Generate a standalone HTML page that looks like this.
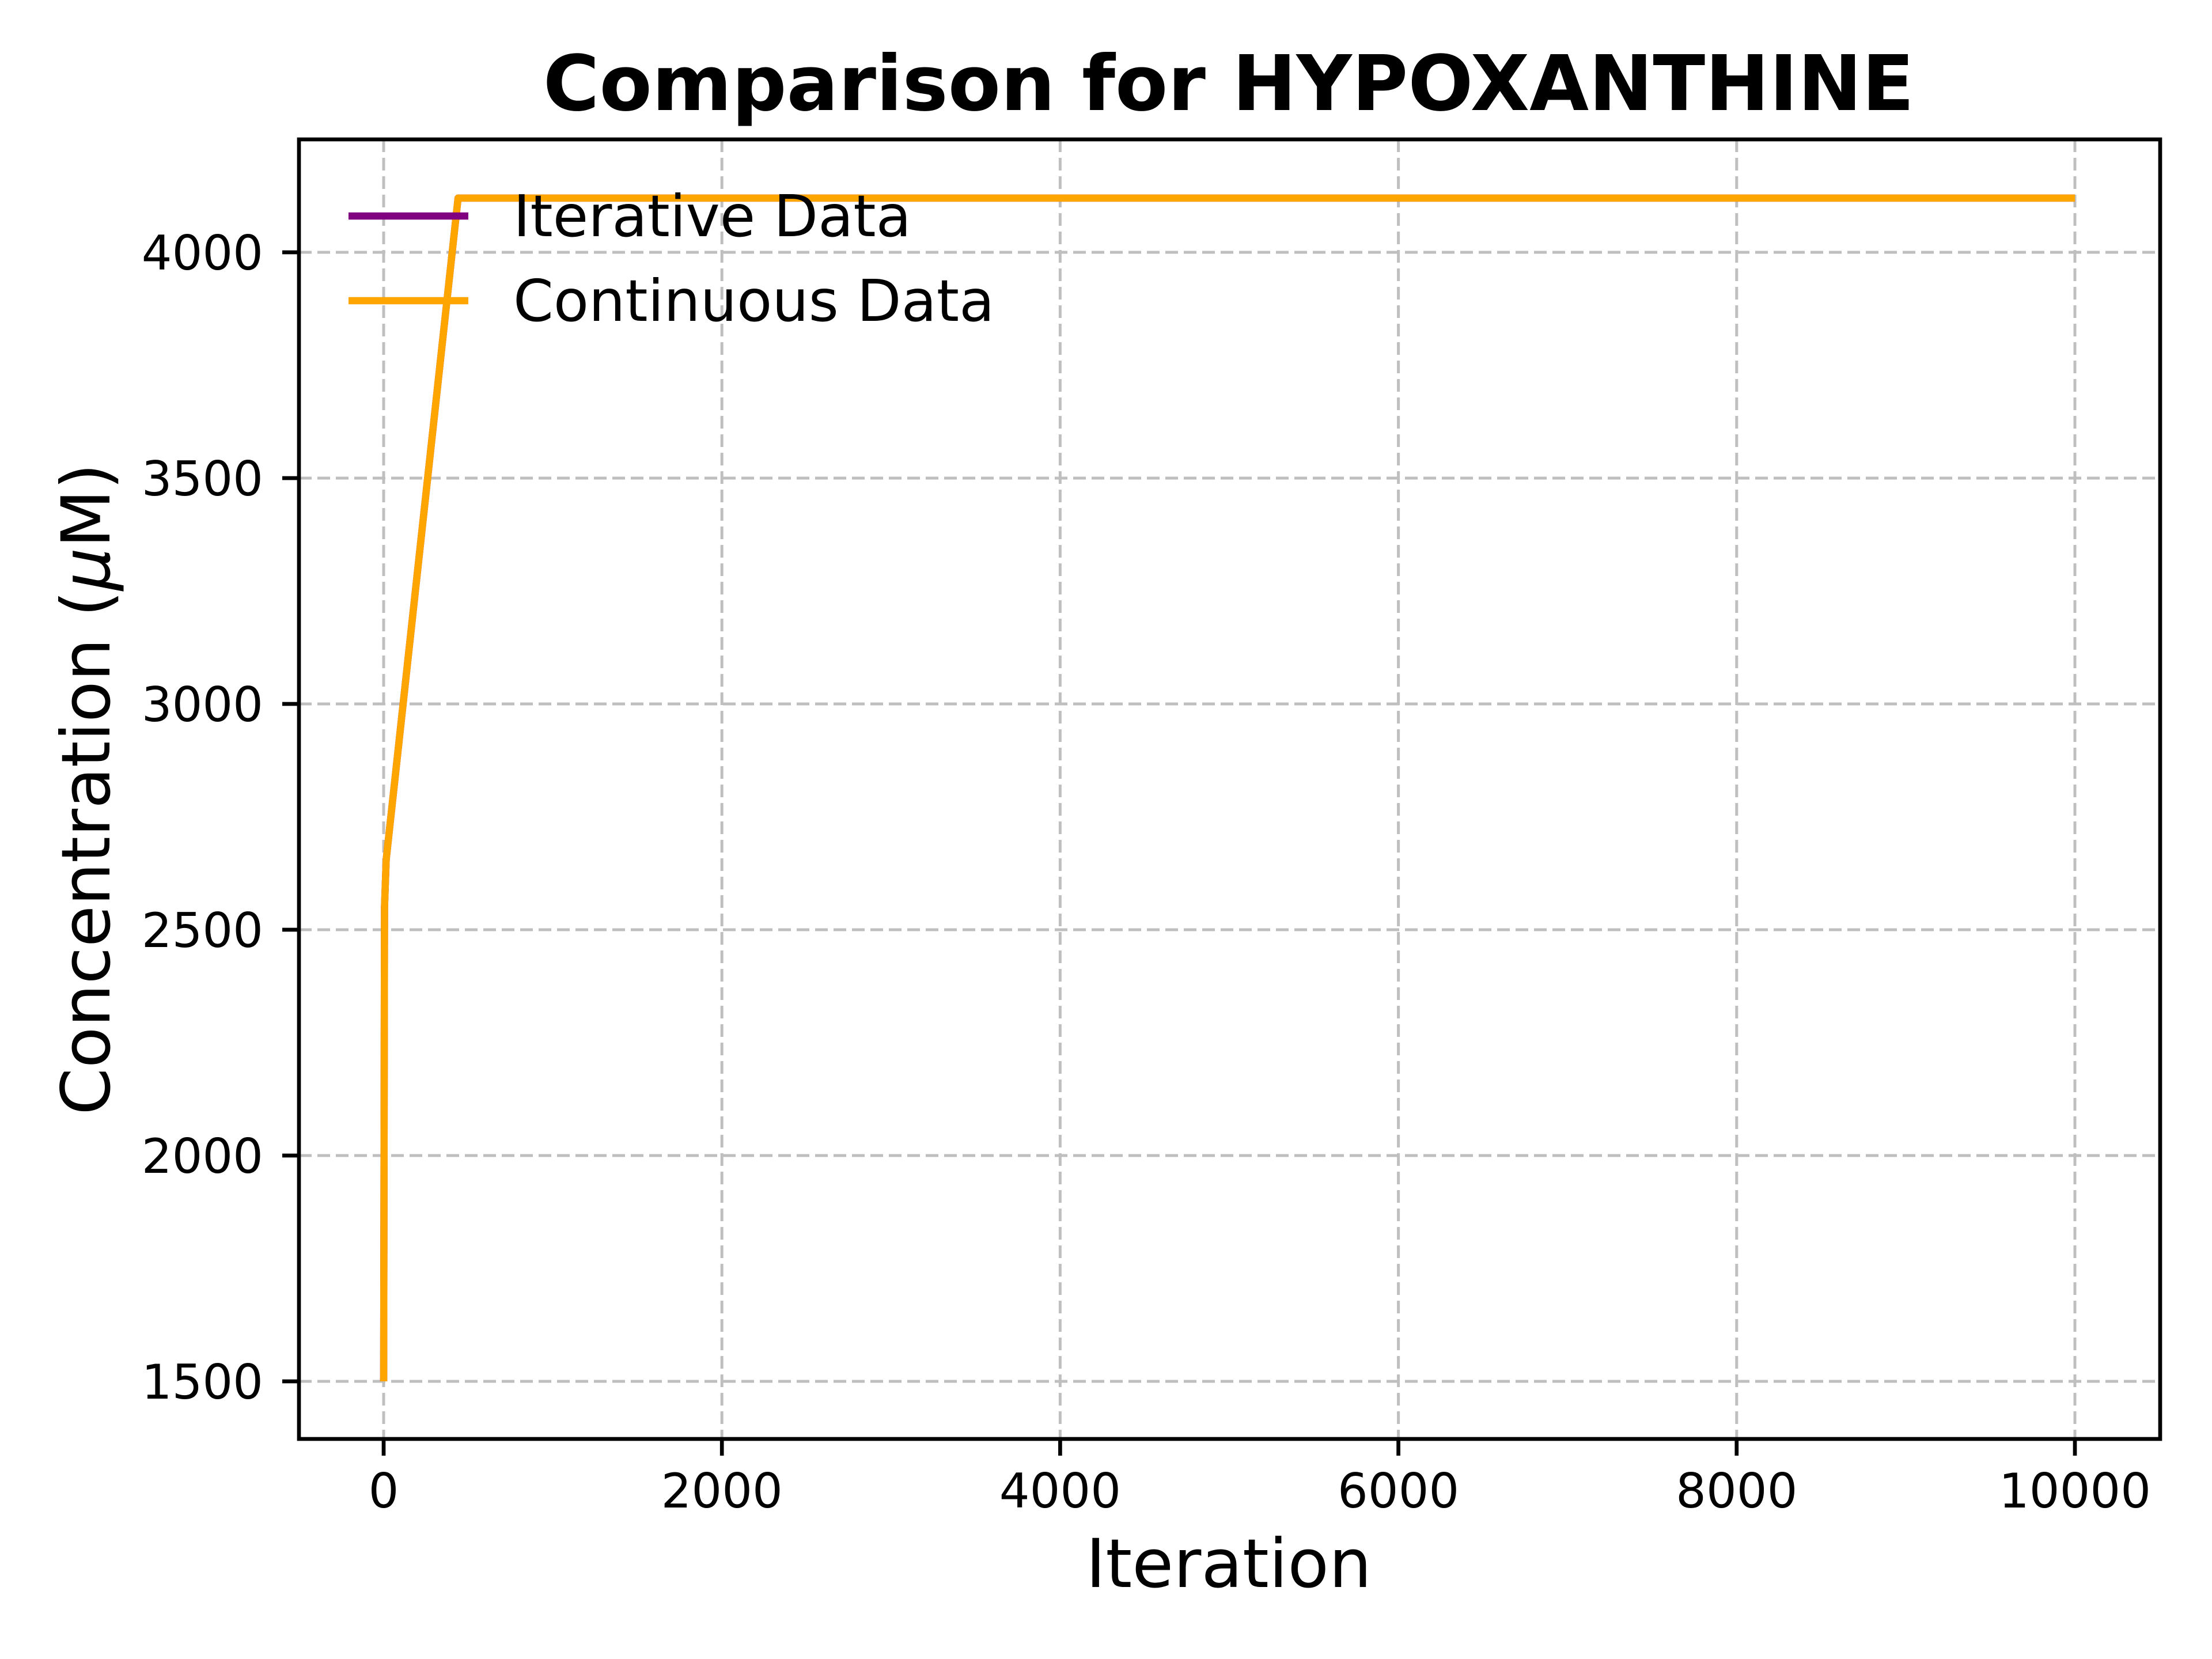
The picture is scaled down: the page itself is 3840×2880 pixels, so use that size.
<!DOCTYPE html>
<html><head><meta charset="utf-8">
<style>
html,body{margin:0;padding:0;background:#fff;}
svg{display:block;}
text{font-family:"DejaVu Sans","Liberation Sans",sans-serif;fill:#000;}
</style></head>
<body>
<svg id="chart" width="3840" height="2880" viewBox="0 0 3840 2880" xmlns="http://www.w3.org/2000/svg">
<rect width="3840" height="2880" fill="#fff"/>
<g id="grid"></g>
<g id="series"></g>
<rect x="519" y="242" width="3231" height="2256" fill="none" stroke="#000" stroke-width="6.7"/>
<g id="ticks"></g>
<text x="2133" y="191" font-size="133" font-weight="bold" text-anchor="middle">Comparison for HYPOXANTHINE</text>
<text x="2133" y="2755" font-size="117" text-anchor="middle">Iteration</text>
<text x="0" y="0" font-size="117" text-anchor="middle" transform="translate(190,1370) rotate(-90)">Concentration (<tspan font-style="italic">μ</tspan>M)</text>
<g>
<line x1="605" y1="375" x2="813" y2="375" stroke="#800080" stroke-width="12.5"/>
<text x="891" y="410" font-size="100">Iterative Data</text>
<line x1="605" y1="522" x2="813" y2="522" stroke="#FFA500" stroke-width="12.5"/>
<text x="891" y="557" font-size="100">Continuous Data</text>
</g>
</svg>
<script>
const xTicks = [0, 2000, 4000, 6000, 8000, 10000];
const yTicks = [1500, 2000, 2500, 3000, 3500, 4000];
const iterX = [0, 5, 15, 440, 10000];
const iterY = [1500, 2550, 2655, 4120, 4120];
const contX = [0, 5, 15, 440, 10000];
const contY = [1500, 2550, 2655, 4120, 4120];

const X0 = 666, X1 = 3602, Y0 = 2398, Y1 = 438;
function sx(v){ return X0 + (v - 0) / 10000 * (X1 - X0); }
function sy(v){ return Y0 - (v - 1500) / 2500 * (Y0 - Y1); }
const NS = "http://www.w3.org/2000/svg";
const grid = document.getElementById('grid');
const ticks = document.getElementById('ticks');
const series = document.getElementById('series');
function mk(tag, attrs, parent){
  const e = document.createElementNS(NS, tag);
  for (const k in attrs) e.setAttribute(k, attrs[k]);
  parent.appendChild(e);
  return e;
}
xTicks.forEach(v => {
  const x = sx(v);
  const g = mk('line', {x1:x, y1:242, x2:x, y2:2498, stroke:'#bfbfbf', 'stroke-width':5, 'stroke-dasharray':'22 10'}, grid);
  
  
  const t = mk('line', {x1:x, y1:2498, x2:x, y2:2527, stroke:'#000', 'stroke-width':6.7}, ticks);
  
  
  const l = mk('text', {x:x, y:2617, 'font-size':83, 'text-anchor':'middle'}, ticks);
  l.textContent = String(v);
  
  
});
yTicks.forEach(v => {
  const y = sy(v);
  const g = mk('line', {x1:519, y1:y, x2:3750, y2:y, stroke:'#bfbfbf', 'stroke-width':5, 'stroke-dasharray':'22 10'}, grid);
  
  
  const t = mk('line', {x1:490, y1:y, x2:519, y2:y, stroke:'#000', 'stroke-width':6.7}, ticks);
  
  
  const l = mk('text', {x:457, y:y+30, 'font-size':83, 'text-anchor':'end'}, ticks);
  l.textContent = String(v);
  
  
});
function path(xs, ys){ return xs.map((x,i)=>(i?'L':'M')+sx(x).toFixed(1)+' '+sy(ys[i]).toFixed(1)).join(' '); }
const p1 = mk('path', {d:path(iterX, iterY), fill:'none', stroke:'#800080', 'stroke-width':12.5, 'stroke-linejoin':'round'}, series);


const p2 = mk('path', {d:path(contX, contY), fill:'none', stroke:'#FFA500', 'stroke-width':12.5, 'stroke-linejoin':'round'}, series);


</script>
</body></html>
